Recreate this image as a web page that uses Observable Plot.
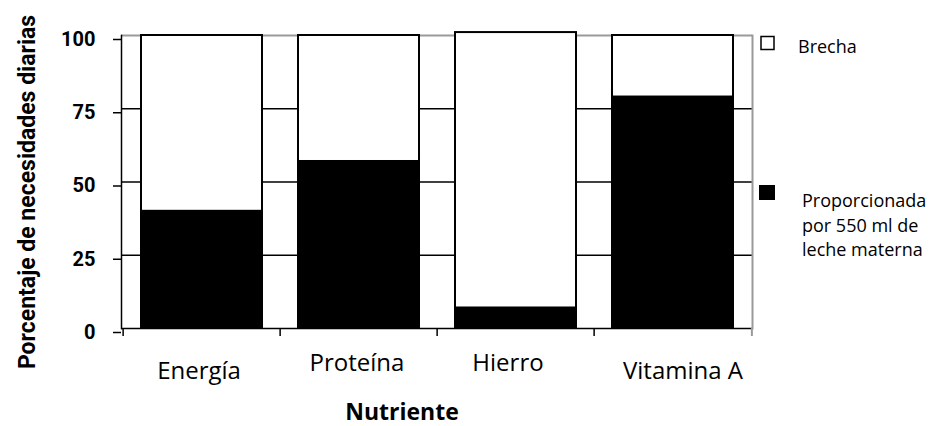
<!DOCTYPE html>
<html>
<head>
<meta charset="utf-8">
<script src="https://cdn.jsdelivr.net/npm/d3@7"></script>
<script src="https://cdn.jsdelivr.net/npm/@observablehq/plot@0.6"></script>
<style>
  html, body { margin: 0; padding: 0; background: white; }
  #chart { width: 934px; height: 426px; overflow: hidden; }
</style>
</head>
<body>
<div id="chart"></div>
<script>
const categories = ["Energía", "Proteína", "Hierro", "Vitamina A"];
const provided = [40, 57, 7, 79];
const gap = [60, 43, 94, 21];
const yTicks = [0, 25, 50, 75, 100];
const seriesKeys = ["Proporcionada", "Brecha"];
const legendLabels = [["Brecha"], ["Proporcionada", "por 550 ml de", "leche materna"]];
const yTitle = "Porcentaje de necesidades diarias";
const xTitle = "Nutriente";

const data = categories.flatMap((c, i) => [
  {cat: c, serie: seriesKeys[0], value: provided[i]},
  {cat: c, serie: seriesKeys[1], value: gap[i]}
]);

const W = 934, H = 426, mL = 121, mR = 182, mT = 35, mB = 98;
const step = (W - mL - mR) / categories.length;

const catFont = {fontSize: 24, fontFamily: "'Open Sans', sans-serif"};

const chart = Plot.plot({
  width: W, height: H,
  marginLeft: mL, marginRight: mR, marginTop: mT, marginBottom: mB,
  style: {background: "white", color: "black", overflow: "visible"},
  x: {domain: categories, paddingInner: 0.23, paddingOuter: 0.115, align: 0.5, axis: null},
  y: {domain: [0, 100], axis: null},
  color: {domain: seriesKeys, range: ["black", "white"]},
  marks: [
    Plot.ruleY(yTicks.filter(d => d < 100), {stroke: "black", strokeWidth: 1.5}),
    Plot.ruleY(yTicks.filter(d => d === 100), {stroke: "#9a9a9a", strokeWidth: 2}),
    Plot.frame({anchor: "right", stroke: "#9a9a9a", strokeWidth: 2}),
    Plot.frame({anchor: "left", stroke: "black", strokeWidth: 1.5}),
    Plot.barY(data, Plot.stackY({x: "cat", y: "value", fill: "serie", stroke: "black", strokeWidth: 2})),
    Plot.ruleX(categories, {x: d => d, dx: -step / 2, y1: 0, y2: 0, insetBottom: -8, stroke: "black", strokeWidth: 1.5}),
    Plot.ruleX(categories.slice(-1), {x: d => d, dx: step / 2, y1: 0, y2: 0, insetBottom: -8, stroke: "#9a9a9a", strokeWidth: 2}),
    Plot.axisY({ticks: yTicks, tickSize: 8, tickPadding: 18, tickFormat: d => String(d),
      fontSize: 20, fontWeight: "bold", fontFamily: "Roboto, sans-serif", dy: 4, stroke: "black", strokeWidth: 1.5, label: null}),
    Plot.axisX({ticks: [categories[0]], tickSize: 0, tickPadding: 33, dx: -3, ...catFont, label: null}),
    Plot.axisX({ticks: [categories[1]], tickSize: 0, tickPadding: 25, dx: -2, ...catFont, label: null}),
    Plot.axisX({ticks: [categories[2]], tickSize: 0, tickPadding: 25, dx: -8, ...catFont, label: null}),
    Plot.axisX({ticks: [categories[3]], tickSize: 0, tickPadding: 33, dx: 10, ...catFont, label: null})
  ]
});

document.getElementById("chart").appendChild(chart);

const svg = d3.select(chart);
// Y title
svg.append("text")
  .attr("transform", "translate(35,192) rotate(-90)")
  .attr("text-anchor", "middle")
  .attr("font-family", "Roboto, sans-serif")
  .attr("font-weight", "bold")
  .attr("font-size", 23)
  .attr("fill", "black")
  .text(yTitle);
// X title
svg.append("text")
  .attr("x", 402).attr("y", 420)
  .attr("text-anchor", "middle")
  .attr("font-family", "'Open Sans', sans-serif")
  .attr("font-weight", "bold")
  .attr("font-size", 23)
  .attr("fill", "black")
  .text(xTitle);
// Legend
const leg = svg.append("g").attr("text-anchor", "start");
leg.append("rect").attr("x", 761).attr("y", 36.5).attr("width", 13).attr("height", 13)
  .attr("fill", "white").attr("stroke", "black").attr("stroke-width", 1.5);
leg.append("rect").attr("x", 759).attr("y", 185).attr("width", 16).attr("height", 15)
  .attr("fill", "black");
leg.append("text").attr("x", 798).attr("y", 53)
  .attr("font-family", "'Open Sans', sans-serif").attr("font-size", 18).attr("fill", "black")
  .text(legendLabels[0][0]);
const t2 = leg.append("text").attr("font-family", "'Open Sans', sans-serif").attr("font-size", 18).attr("fill", "black");
legendLabels[1].forEach((s, i) => t2.append("tspan").attr("x", 802).attr("y", 207 + i * 24.5).text(s));
</script>
</body>
</html>
